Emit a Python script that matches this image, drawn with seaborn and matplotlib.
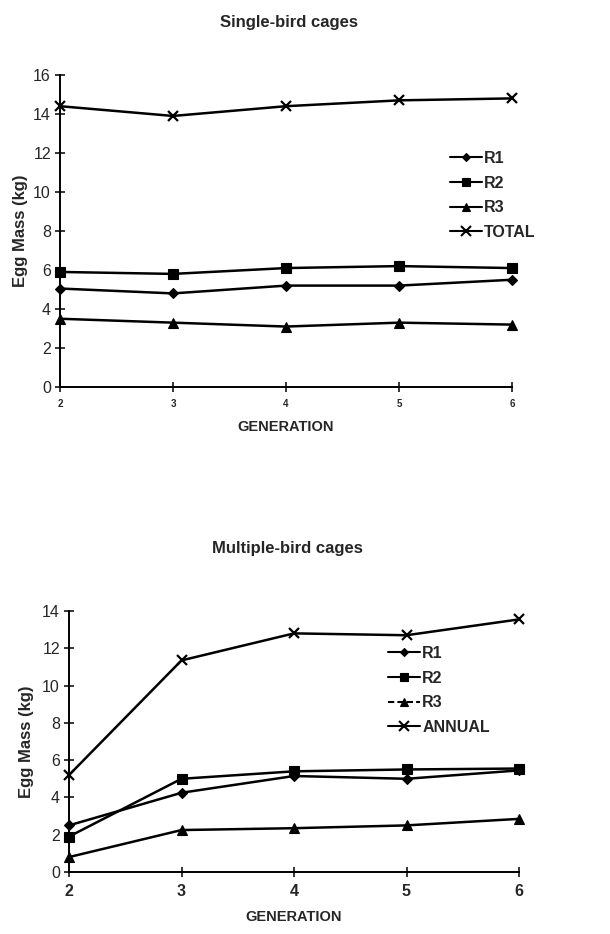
import matplotlib
matplotlib.use("Agg")
import matplotlib.pyplot as plt
import seaborn as sns
import pandas as pd
from matplotlib.lines import Line2D

sns.set_theme(style="white")
plt.rcParams["font.family"] = ["Liberation Sans", "DejaVu Sans"]

generations = [2, 3, 4, 5, 6]

# Single-bird cages (kg)
single_r1 = [5.05, 4.8, 5.2, 5.2, 5.5]
single_r2 = [5.9, 5.8, 6.1, 6.2, 6.1]
single_r3 = [3.5, 3.3, 3.1, 3.3, 3.2]
single_total = [14.4, 13.9, 14.4, 14.7, 14.8]

# Multiple-bird cages (kg)
multi_r1 = [2.5, 4.25, 5.15, 5.0, 5.45]
multi_r2 = [1.9, 5.0, 5.4, 5.5, 5.55]
multi_r3 = [0.8, 2.25, 2.35, 2.5, 2.85]
multi_annual = [5.2, 11.35, 12.8, 12.7, 13.55]

markers = {"R1": "D", "R2": "s", "R3": "^", "TOTAL": "x", "ANNUAL": "x"}
msizes = {"R1": 5.5, "R2": 6.5, "R3": 7, "TOTAL": 7.5, "ANNUAL": 7.5}


def long_frame(series):
    rows = []
    for name, vals in series.items():
        for g, v in zip(generations, vals):
            rows.append({"Generation": g, "Mass": v, "Series": name})
    return pd.DataFrame(rows)


def draw_panel(ax, series, ymax, xtick_size, xlabelpad, ylabelpad,
               legend_anchor, legend_style):
    df = long_frame(series)
    for name in series:
        sub = df[df["Series"] == name]
        sns.lineplot(data=sub, x="Generation", y="Mass", ax=ax, color="black",
                     linewidth=1.8, marker=markers[name], markersize=msizes[name],
                     markeredgecolor="black",
                     markeredgewidth=1.6 if name in ("TOTAL", "ANNUAL") else 0.8,
                     clip_on=False, legend=False)
    ax.set_xlim(2, 6)
    ax.set_ylim(0, ymax)
    ax.set_xticks(generations)
    ax.set_yticks(range(0, ymax + 1, 2))
    for side in ("top", "right"):
        ax.spines[side].set_visible(False)
    for side in ("left", "bottom"):
        ax.spines[side].set_color("black")
        ax.spines[side].set_linewidth(1.4)
    ax.tick_params(axis="both", direction="inout", length=7, width=1.1, color="black",
                   left=True, bottom=True)
    ax.tick_params(axis="y", labelsize=11.5, pad=3)
    ax.tick_params(axis="x", labelsize=xtick_size, pad=5)
    for lab in ax.get_xticklabels():
        lab.set_fontweight("bold")
    ax.set_xlabel("GENERATION", fontsize=10.5, fontweight="bold", labelpad=xlabelpad)
    ax.set_ylabel("Egg Mass (kg)", fontsize=12, fontweight="bold", labelpad=ylabelpad)
    handles = [Line2D([0], [0], color="black", linewidth=1.5,
                      linestyle=legend_style.get(n, "-"),
                      marker=markers[n], markersize=msizes[n] - 1,
                      markeredgewidth=1.5 if n in ("TOTAL", "ANNUAL") else 0.8)
               for n in series]
    ax.legend(handles, list(series), loc="upper left", bbox_to_anchor=legend_anchor,
              bbox_transform=ax.figure.transFigure, frameon=False,
              prop={"size": 11.5, "weight": "bold"},
              handlelength=2.0, handletextpad=0.15, labelspacing=0.6,
              borderaxespad=0, borderpad=0)


fig = plt.figure(figsize=(6.10, 9.34), dpi=100)

ax1 = fig.add_axes([60 / 610, 1 - 387 / 934, (512 - 60) / 610, (387 - 75) / 934])
draw_panel(ax1,
           {"R1": single_r1, "R2": single_r2, "R3": single_r3, "TOTAL": single_total},
           16, 7, 8, 4, (450 / 610, 1 - 151 / 934), {})
fig.text(289 / 610, 1 - 22 / 934, "Single-bird cages",
         ha="center", va="center", fontsize=12, fontweight="bold")

ax2 = fig.add_axes([69 / 610, 1 - 872 / 934, (519 - 69) / 610, (872 - 611) / 934])
draw_panel(ax2,
           {"R1": multi_r1, "R2": multi_r2, "R3": multi_r3, "ANNUAL": multi_annual},
           14, 11.5, 8, 6, (388 / 610, 1 - 646 / 934), {"R3": (0, (3, 1.5))})
fig.text(287 / 610, 1 - 548 / 934, "Multiple-bird cages",
         ha="center", va="center", fontsize=12, fontweight="bold")

fig.savefig("out.png", dpi=100, facecolor="white")
